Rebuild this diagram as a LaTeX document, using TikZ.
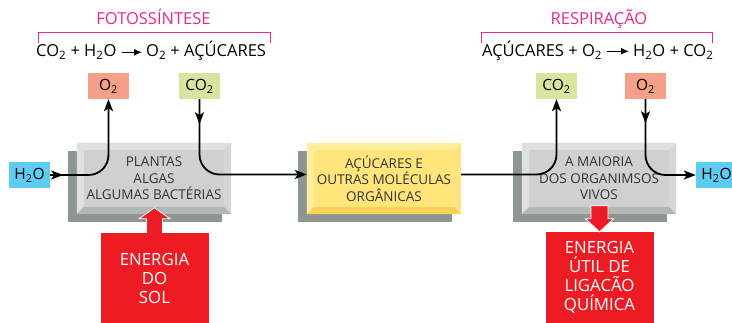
\documentclass[tikz,border=0pt]{standalone}
\usepackage{fontspec}
\setmainfont{Open Sans}
\usetikzlibrary{arrows.meta,backgrounds}
\definecolor{titleMagenta}{HTML}{E6288C}
\definecolor{salmonBox}{HTML}{F5A088}
\definecolor{greenBox}{HTML}{D6E6A0}
\definecolor{blueBox}{HTML}{5DCBF2}
\definecolor{energyRed}{HTML}{ED1C24}
\definecolor{blockText}{HTML}{333333}
\definecolor{shadowGray}{HTML}{8E9692}
\definecolor{faceGray}{HTML}{CDD1CF}
\definecolor{grayLight}{HTML}{DEE1DF}
\definecolor{grayMid}{HTML}{D4D7D5}
\definecolor{grayDark}{HTML}{B3B8B6}
\definecolor{faceYellow}{HTML}{FFE57A}
\definecolor{yellowLight}{HTML}{FFEE9E}
\definecolor{yellowMid}{HTML}{FFE486}
\definecolor{yellowDark}{HTML}{F8D257}
% shadow and bevel round a block node: #1 node, #2 top/left, #3 right, #4 bottom
\newcommand{\pBevel}[4]{%
  \begin{scope}[on background layer]
    \fill[shadowGray] ([shift={(-9,8)}]#1.north west) rectangle ([shift={(-9,8)}]#1.south east);
  \end{scope}
  \fill[#2] (#1.north west) -- (#1.north east) -- ([shift={(-7,7)}]#1.north east) -- ([shift={(7,7)}]#1.north west) -- cycle;
  \fill[#2] (#1.north west) -- ([shift={(7,7)}]#1.north west) -- ([shift={(7,-7)}]#1.south west) -- (#1.south west) -- cycle;
  \fill[#3] (#1.north east) -- ([shift={(-7,7)}]#1.north east) -- ([shift={(-7,-7)}]#1.south east) -- (#1.south east) -- cycle;
  \fill[#4] (#1.south west) -- ([shift={(7,-7)}]#1.south west) -- ([shift={(-7,-7)}]#1.south east) -- (#1.south east) -- cycle;
}

\begin{document}
\begin{tikzpicture}[x=1pt,y=-1pt,
  flow/.style={line width=1.8pt, -{Stealth[length=12pt,width=9pt,inset=3pt]}},
  eqArrow/.style={line width=1.3pt, shorten <=4pt, shorten >=3pt, -{Latex[length=8pt,width=7pt]}},
  chemBox/.style={minimum width=41pt, minimum height=26pt, inner sep=0pt, font=\fontsize{15.5}{18}\selectfont},
  block/.style={minimum width=154pt, minimum height=71pt, inner sep=0pt, align=center, text=blockText, font=\fontsize{13.5}{16.5}\selectfont},
  energy/.style={fill=energyRed, text=white, minimum width=108pt, minimum height=91pt, inner sep=0pt, align=center, font=\fontsize{16.8}{19}\selectfont},
  title/.style={text=titleMagenta, font=\fontsize{16.5}{18}\selectfont, anchor=base},
  eq/.style={font=\fontsize{16.5}{18}\selectfont, anchor=base west, inner sep=1pt}]
\useasboundingbox (0,0) rectangle (732,323);

% titles and equations
\node[title] (fotoTitle) at (153.5,25) {FOTOSSÍNTESE};
\draw[titleMagenta, line width=1pt] (38,43) -- (38,33) -- (270,33) -- (270,43);
\node[eq] (fotoEqL) at (35,57) {CO\textsubscript{2} + H\textsubscript{2}O};
\node[eq] (fotoEqR) at (145,57) {O\textsubscript{2} + AÇÚCARES};
\draw[eqArrow] (fotoEqL.east) -- (fotoEqL.east -| fotoEqR.west);

\node[title] (respTitle) at (599,25) {RESPIRAÇÃO};
\draw[titleMagenta, line width=1pt] (481,43) -- (481,33) -- (712,33) -- (712,43);
\node[eq] (respEqL) at (481,57) {AÇÚCARES + O\textsubscript{2}};
\node[eq] (respEqR) at (632,57) {H\textsubscript{2}O + CO\textsubscript{2}};
\draw[eqArrow] (respEqL.east) -- (respEqL.east -| respEqR.west);

% gases
\node[chemBox, fill=salmonBox] (o2L) at (108.5,86) {O\textsubscript{2}};
\node[chemBox, fill=greenBox] (co2L) at (199.5,86) {CO\textsubscript{2}};
\node[chemBox, fill=greenBox] (co2R) at (556.5,86) {CO\textsubscript{2}};
\node[chemBox, fill=salmonBox] (o2R) at (645.5,86) {O\textsubscript{2}};
\node[chemBox, fill=blueBox] (h2oL) at (29.5,175) {H\textsubscript{2}O};
\node[chemBox, fill=blueBox] (h2oR) at (716.5,175) {H\textsubscript{2}O};

% blocks
\node[block, fill=faceGray] (plantas) at (154,178.5) {PLANTAS\\ALGAS\\ALGUMAS BACTÉRIAS};
\pBevel{plantas}{grayLight}{grayMid}{grayDark}
\node[block, fill=faceYellow] (acucares) at (384,178.5) {AÇÚCARES E\\OUTRAS MOLÉCULAS\\ORGÂNICAS};
\pBevel{acucares}{yellowLight}{yellowMid}{yellowDark}
\node[block, fill=faceGray] (vivos) at (599,178.5) {A MAIORIA\\DOS ORGANIMSOS\\VIVOS};
\pBevel{vivos}{grayLight}{grayMid}{grayDark}

% flows
\draw[flow] (h2oL.east) -- ++(13,0);
\draw[flow, rounded corners=20pt] (h2oL.east) -| (o2L.south);
\draw[flow] (co2L.south) -- ++(0,25);
\draw[flow, rounded corners=20pt] (co2L.south) |- ([yshift=4pt]acucares.west);
\draw[flow, rounded corners=20pt] ([yshift=4pt]acucares.east) -| (co2R.south);
\draw[flow] (o2R.south) -- ++(0,24);
\draw[flow, rounded corners=20pt] (o2R.south) |- (h2oR.west);

% energy
\node[energy] (sol) at (154.5,278.5) {ENERGIA\\DO\\SOL};
\node[energy] (util) at (599.5,277.5) {ENERGIA\\ÚTIL DE\\LIGACÃO\\QUÍMICA};
\filldraw[energyRed, draw=white, line width=0.8pt] ([xshift=-8pt]sol.north) -- ++(0,-14) -- ++(-7.5,0) -- ++(15.5,-11) -- ++(15.5,11) -- ++(-7.5,0) -- ++(0,14);
\filldraw[energyRed, draw=white, line width=0.8pt] (util.north) -- ++(-14,-13) -- ++(5.5,0) -- ++(0,-13) -- ++(17,0) -- ++(0,13) -- ++(5.5,0) -- cycle;
\end{tikzpicture}
\end{document}
